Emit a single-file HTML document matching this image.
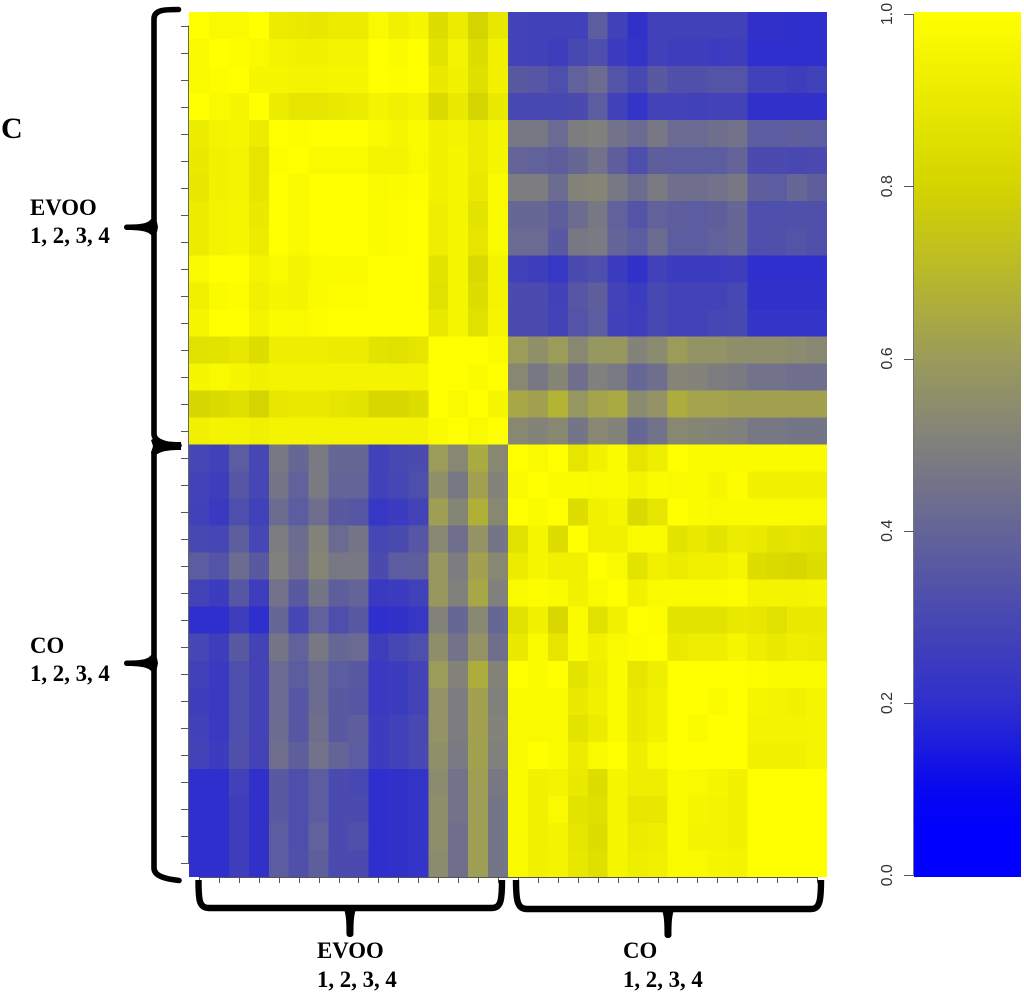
<!DOCTYPE html>
<html lang="en">
<head>
<meta charset="utf-8">
<title>Correlation heatmap EVOO and CO</title>
<style>
html,body{margin:0;padding:0;background:#fff;width:1024px;height:993px;overflow:hidden}
svg{display:block}
.lab{font-family:"Liberation Serif",serif;font-weight:bold;font-size:22.8px;fill:#000}
.cb{font-family:"Liberation Sans",sans-serif;font-size:16px;fill:#333}
</style>
</head>
<body>
<svg id="chart" xmlns="http://www.w3.org/2000/svg" width="1024" height="993" viewBox="0 0 1024 993">
  <defs>
    <linearGradient id="cbGrad" gradientUnits="userSpaceOnUse" x1="0" x2="0" y1="875.3" y2="14"></linearGradient>
  </defs>
  <g id="cells" shape-rendering="crispEdges"></g>
  <g id="axes"></g>
  <g id="colorbar"></g>

  <g fill="none" stroke="#000" stroke-linecap="round">
    <path stroke-width="5.6" d="M178.5,9.5 C165,9.5 154,9.5 154,19 L154,222 M154,232 L154,434 C154,441 165,445 179,445.5"/>
    <path fill="#000" stroke="none" d="M127,224.5 C138,224.5 148,224 151,219 L157,222 L158,227 L157,232 L151,235 C148,231 138,230 127,230 C123,230 123,224.5 127,224.5 Z"/>
    <path fill="#000" stroke="none" d="M181,442 L181,450 C168,450 160,451 155,456 L151,453 L153,446 L151,440 L155,438 C160,441 168,442 181,442 Z"/>
    <path stroke-width="5.6" d="M154,452 L154,658 M154,668 L154,868 C154,876 165,879 179,880.5"/>
    <path fill="#000" stroke="none" d="M127,660.5 C138,660.5 148,660 151,655 L157,658 L158,663 L157,668 L151,671 C148,667 138,666 127,666 C123,666 123,660.5 127,660.5 Z"/>
  </g>

  <g fill="none" stroke="#000" stroke-linecap="butt">
    <path stroke-width="6.4" d="M198.5,880 C198.5,900 199,908 209,908 L492,908 C501,908 502,900 502,880"/>
    <path fill="#000" stroke="none" d="M342,906 L358,906 C354,911 353.5,920 353.5,934 C353.5,938 346.5,938 346.5,934 C346.5,920 346,911 342,906 Z"/>
    <path stroke-width="6.4" d="M516,880 C516,900 517,909 527,909 L811,909 C820,909 821,900 821,880"/>
    <path fill="#000" stroke="none" d="M660,907 L676,907 C672,912 671.5,921 671.5,935 C671.5,939 664.5,939 664.5,935 C664.5,921 664,912 660,907 Z"/>
  </g>

  <text class="lab" x="1" y="138" style="font-size:30px">C</text>
  <text class="lab" x="30" y="215">EVOO</text>
  <text class="lab" x="30" y="243">1, 2, 3, 4</text>
  <text class="lab" x="30" y="653">CO</text>
  <text class="lab" x="30" y="681">1, 2, 3, 4</text>
  <text class="lab" x="317" y="958">EVOO</text>
  <text class="lab" x="317" y="987">1, 2, 3, 4</text>
  <text class="lab" x="623" y="958">CO</text>
  <text class="lab" x="623" y="987">1, 2, 3, 4</text>
</svg>

<script>
var cellValues = [
[1,.97,.97,1,.91,.90,.89,.91,.91,.97,.93,.96,.84,.91,.80,.89,.28,.27,.27,.27,.37,.27,.21,.27,.27,.27,.27,.27,.21,.21,.20,.20],
[.97,1,.99,.97,.95,.94,.94,.95,.95,1,.98,1,.87,.95,.84,.94,.28,.27,.26,.30,.32,.25,.22,.27,.26,.26,.25,.26,.20,.20,.20,.20],
[.97,.99,1,.96,.96,.95,.95,.96,.96,1,.99,1,.90,.94,.85,.94,.36,.35,.32,.39,.43,.34,.30,.36,.33,.33,.34,.34,.27,.27,.26,.27],
[1,.97,.96,1,.91,.88,.88,.90,.91,.95,.93,.95,.83,.90,.80,.90,.30,.30,.30,.31,.37,.27,.22,.28,.28,.27,.28,.28,.21,.21,.21,.21],
[.91,.95,.96,.91,1,.99,1,1,1,.97,.96,.98,.94,.95,.91,.96,.47,.47,.42,.49,.50,.45,.42,.47,.42,.42,.44,.45,.37,.37,.38,.37],
[.90,.94,.95,.88,.99,1,.97,.97,.97,.95,.95,.97,.94,.96,.91,.96,.40,.39,.38,.41,.45,.38,.32,.38,.37,.37,.37,.40,.31,.31,.30,.31],
[.89,.94,.95,.88,1,.97,1,1,1,.97,.98,.99,.94,.96,.90,.97,.49,.49,.43,.51,.52,.47,.43,.48,.44,.44,.45,.47,.38,.37,.41,.38],
[.91,.95,.96,.90,1,.97,1,1,1,.98,.99,1,.92,.96,.87,.97,.41,.41,.38,.43,.47,.39,.34,.39,.38,.37,.38,.41,.32,.32,.33,.33],
[.91,.95,.96,.91,1,.97,1,1,1,.98,.99,1,.92,.96,.88,.97,.42,.42,.36,.47,.48,.40,.37,.43,.37,.37,.39,.41,.32,.33,.34,.33],
[.97,1,1,.95,.97,.95,.97,.98,.98,1,1,1,.87,.96,.83,.95,.27,.26,.23,.31,.32,.25,.21,.27,.25,.25,.25,.26,.20,.20,.20,.20],
[.93,.98,.99,.93,.96,.95,.98,.99,.99,1,1,1,.86,.96,.84,.95,.31,.31,.27,.35,.38,.28,.25,.30,.28,.28,.28,.30,.21,.21,.21,.21],
[.96,1,1,.95,.98,.97,.99,1,1,1,1,1,.90,.96,.86,.96,.31,.31,.28,.34,.37,.27,.26,.30,.28,.28,.29,.30,.22,.22,.22,.22],
[.86,.87,.89,.84,.92,.92,.92,.91,.91,.87,.86,.88,1,1,1,.98,.60,.56,.60,.53,.58,.59,.51,.54,.60,.57,.57,.55,.55,.55,.54,.53],
[.96,.97,.96,.94,.95,.95,.95,.95,.95,.95,.95,.95,1,1,.98,1,.53,.47,.52,.44,.50,.48,.41,.44,.52,.51,.49,.48,.45,.45,.44,.44],
[.81,.83,.85,.80,.89,.90,.90,.88,.87,.82,.82,.84,1,.97,1,.96,.64,.62,.68,.58,.63,.65,.54,.57,.66,.63,.63,.62,.62,.62,.62,.62],
[.93,.95,.95,.93,.95,.95,.95,.95,.95,.95,.95,.95,.98,1,.97,1,.53,.51,.53,.46,.53,.51,.41,.45,.53,.52,.51,.50,.47,.47,.46,.46],
[.29,.27,.37,.29,.47,.41,.48,.41,.41,.27,.30,.31,.60,.53,.65,.53,1,.97,1,.88,.94,.98,.88,.92,1,.98,.98,.98,.98,.98,.98,.98],
[.28,.26,.35,.29,.46,.39,.48,.40,.40,.27,.29,.32,.56,.47,.62,.51,.97,1,.98,.98,.97,.98,.95,.98,.97,.98,.96,.99,.94,.93,.94,.94],
[.27,.24,.32,.27,.43,.37,.44,.36,.35,.23,.25,.28,.61,.52,.67,.53,1,.98,1,.84,.93,.96,.83,.88,1,.98,.97,.98,.98,.98,.98,.97],
[.30,.29,.38,.29,.49,.43,.51,.42,.46,.29,.31,.35,.53,.44,.57,.46,.86,.96,.84,1,.93,.93,.98,.98,.87,.90,.87,.91,.90,.87,.88,.87],
[.37,.34,.43,.36,.50,.44,.52,.47,.47,.31,.37,.38,.59,.49,.62,.53,.91,.96,.93,.93,1,.97,.87,.93,.91,.93,.93,.96,.84,.83,.82,.84],
[.28,.25,.35,.26,.45,.36,.46,.38,.40,.24,.25,.27,.59,.50,.64,.50,.97,.99,.98,.94,.97,1,.94,.97,.98,.98,.98,.99,.95,.95,.95,.96],
[.20,.20,.26,.20,.41,.29,.39,.32,.36,.20,.21,.23,.51,.41,.53,.41,.86,.94,.82,.98,.86,.93,1,.99,.87,.87,.87,.90,.89,.86,.90,.90],
[.29,.26,.36,.28,.46,.39,.47,.41,.42,.26,.29,.32,.55,.45,.57,.44,.90,.98,.88,.98,.94,.97,.99,1,.90,.92,.92,.96,.92,.90,.92,.91],
[.27,.24,.32,.28,.42,.37,.43,.37,.36,.24,.25,.28,.60,.51,.66,.51,1,.98,1,.87,.92,.98,.88,.92,1,1,1,1,.99,.98,.98,.98],
[.26,.24,.32,.28,.42,.35,.43,.36,.35,.24,.25,.28,.57,.49,.62,.50,.98,.98,.98,.90,.93,.98,.90,.94,1,1,.98,1,.96,.95,.94,.96],
[.27,.24,.32,.28,.43,.35,.44,.36,.38,.25,.27,.30,.57,.49,.62,.51,.97,.97,.97,.87,.91,.98,.90,.94,1,.98,1,1,.95,.95,.95,.96],
[.28,.25,.33,.28,.44,.38,.45,.40,.37,.25,.27,.30,.56,.48,.62,.50,.97,1,.98,.91,.97,1,.92,.97,1,1,1,1,.94,.94,.94,.96],
[.20,.20,.27,.21,.36,.32,.37,.31,.30,.20,.21,.22,.54,.45,.61,.47,.98,.94,.95,.90,.84,.96,.92,.92,.98,.97,.96,.94,1,1,1,1],
[.20,.20,.26,.21,.36,.32,.37,.31,.31,.20,.21,.22,.55,.45,.61,.46,.98,.93,.97,.87,.85,.96,.89,.89,.98,.96,.95,.94,1,1,1,1],
[.20,.20,.26,.21,.37,.32,.39,.31,.33,.20,.21,.22,.55,.44,.61,.46,.97,.93,.95,.88,.84,.96,.91,.92,.98,.95,.95,.94,1,1,1,1],
[.20,.20,.26,.21,.37,.33,.38,.31,.31,.20,.21,.22,.54,.44,.61,.46,.97,.94,.95,.89,.85,.96,.92,.93,.98,.97,.96,.95,1,1,1,1]
];
var colorbarTicks = [0, 0.2, 0.4, 0.6, 0.8, 1];
var colorbarTickLabels = ["0.0", "0.2", "0.4", "0.6", "0.8", "1.0"];
var rampPositions = [0, 0.05, 0.1, 0.2, 0.3, 0.4, 0.5, 0.6, 0.7, 0.8, 1];
var rampReds = [0, 0, 8, 47, 72, 100, 128, 155, 185, 212, 255];
var rampBlues = [255, 255, 240, 205, 178, 152, 125, 90, 42, 0, 0];

var NS = 'http://www.w3.org/2000/svg';
var plotLeft = 189, plotRight = 827, plotTop = 12, plotBottom = 877;

function xScale(col) { return plotLeft + (plotRight - plotLeft) * col / cellValues[0].length; }
function yScale(row) { return plotTop + (plotBottom - plotTop) * row / cellValues.length; }
function cbScale(v) { return 875.3 - 861.3 * v; }

function colorFor(v) {
  var i = 0;
  while (i < rampPositions.length - 2 && v > rampPositions[i + 1]) { i++; }
  var t = (v - rampPositions[i]) / (rampPositions[i + 1] - rampPositions[i]);
  t = Math.max(0, Math.min(1, t));
  var r = Math.round(rampReds[i] + (rampReds[i + 1] - rampReds[i]) * t);
  var b = Math.round(rampBlues[i] + (rampBlues[i + 1] - rampBlues[i]) * t);
  return 'rgb(' + r + ',' + r + ',' + b + ')';
}

function make(tag, attrs, parent) {
  var el = document.createElementNS(NS, tag);
  for (var k in attrs) { el.setAttribute(k, attrs[k]); }
  parent.appendChild(el);
  return el;
}

var cellsG = document.getElementById('cells');
var axesG = document.getElementById('axes');
var cbG = document.getElementById('colorbar');
var grad = document.getElementById('cbGrad');

cellValues.forEach(function (row, r) {
  row.forEach(function (v, c) {
    var cell = make('rect', {
      x: xScale(c), y: yScale(r),
      width: xScale(c + 1) - xScale(c), height: yScale(r + 1) - yScale(r),
      fill: colorFor(v)
    }, cellsG);
    
    
  });
});

var leftAxis = make('line', { x1: plotLeft - 0.5, x2: plotLeft - 0.5, y1: yScale(0.5), y2: yScale(31.5), stroke: '#666', 'stroke-width': 1 }, axesG);



var bottomAxis = make('line', { x1: xScale(0.5), x2: xScale(31.5), y1: plotBottom + 0.5, y2: plotBottom + 0.5, stroke: '#555', 'stroke-width': 1 }, axesG);



cellValues.forEach(function (row, r) {
  var y = Math.round(yScale(r + 0.5)) + 0.5;
  var tick = make('line', { x1: 181, x2: plotLeft, y1: y, y2: y, stroke: '#555', 'stroke-width': 1 }, axesG);
  
  
});

cellValues[0].forEach(function (v, c) {
  var x = Math.round(xScale(c + 0.5)) + 0.5;
  var tick = make('line', { x1: x, x2: x, y1: plotBottom, y2: plotBottom + 6, stroke: '#555', 'stroke-width': 1 }, axesG);
  
  
});

rampPositions.forEach(function (p, i) {
  var stop = make('stop', {
    offset: p,
    'stop-color': 'rgb(' + rampReds[i] + ',' + rampReds[i] + ',' + rampBlues[i] + ')'
  }, grad);
  
  
});

var bar = make('rect', { x: 914, y: 12, width: 107, height: 865, fill: 'url(#cbGrad)' }, cbG);



var barAxis = make('line', { x1: 913.5, x2: 913.5, y1: cbScale(0), y2: cbScale(1), stroke: '#777', 'stroke-width': 1 }, cbG);



colorbarTicks.forEach(function (v, i) {
  var y = Math.round(cbScale(v)) + 0.5;
  var tick = make('line', { x1: 904, x2: 914, y1: y, y2: y, stroke: '#555', 'stroke-width': 1 }, cbG);
  
  
  var label = make('text', {
    'class': 'cb', 'text-anchor': 'middle',
    transform: 'translate(892,' + cbScale(v) + ') rotate(-90)'
  }, cbG);
  label.textContent = colorbarTickLabels[i];
  
  
});
</script>
</body>
</html>
